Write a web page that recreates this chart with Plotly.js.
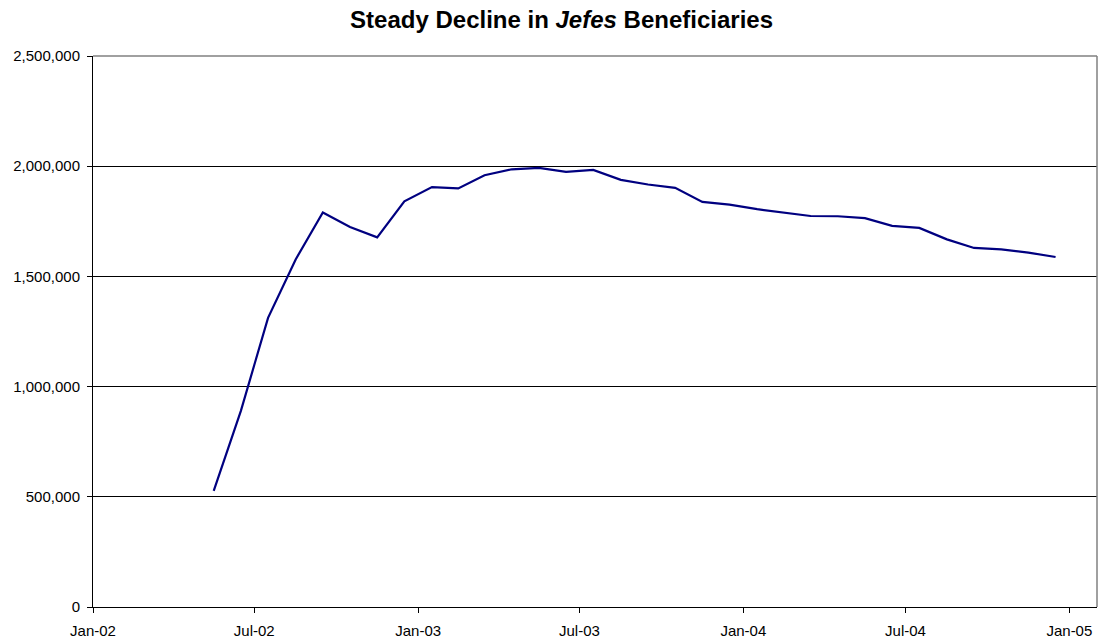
<!DOCTYPE html>
<html>
<head>
<meta charset="utf-8">
<script src="https://cdn.plot.ly/plotly-3.0.1.min.js"></script>
<style>
  html, body { margin: 0; padding: 0; background: #fff; }
  #chart { width: 1112px; height: 639px; }
</style>
</head>
<body>
<div id="chart"></div>
<script>
// Months (monthly data, plotted at mid-month as in the original date axis)
const months = [
  '2002-05','2002-06','2002-07','2002-08','2002-09','2002-10','2002-11','2002-12',
  '2003-01','2003-02','2003-03','2003-04','2003-05','2003-06','2003-07','2003-08',
  '2003-09','2003-10','2003-11','2003-12','2004-01','2004-02','2004-03','2004-04',
  '2004-05','2004-06','2004-07','2004-08','2004-09','2004-10','2004-11','2004-12'
];
// Jefes beneficiaries
const beneficiaries = [
  527000, 890000, 1312000, 1577000, 1790000, 1724000, 1677000, 1841000,
  1905000, 1899000, 1959000, 1986000, 1992000, 1974000, 1983000, 1938000,
  1917000, 1902000, 1838000, 1826000, 1805000, 1791000, 1774000, 1773000,
  1764000, 1729000, 1720000, 1668000, 1629000, 1623000, 1608000, 1588000
];
const yTicks = [0, 500000, 1000000, 1500000, 2000000, 2500000];
const titleText = '<b>Steady Decline in <i>Jefes</i> Beneficiaries</b>';

function midMonth(s) {
  const [y, m] = s.split('-').map(Number);
  const a = Date.UTC(y, m - 1, 1);
  const b = Date.UTC(y, m, 1);
  return new Date((a + b) / 2).toISOString().slice(0, 19).replace('T', ' ');
}
const xDates = months.map(midMonth);

const font = 'Arial, "Liberation Sans", sans-serif';

const trace = {
  x: xDates,
  y: beneficiaries,
  type: 'scatter',
  mode: 'lines',
  line: { color: '#000080', width: 2.2 },
  hoverinfo: 'x+y'
};

const layout = {
  width: 1112,
  height: 639,
  margin: { l: 93, r: 14.5, t: 56, b: 32 },
  paper_bgcolor: '#ffffff',
  plot_bgcolor: '#ffffff',
  showlegend: false,
  font: { family: font, color: '#000000', size: 15 },
  title: {
    text: titleText,
    font: { family: font, size: 24, color: '#000000' },
    x: 0.505, xref: 'container', xanchor: 'center',
    y: 1 - 19.5 / 639, yref: 'container', yanchor: 'middle'
  },
  xaxis: {
    type: 'date',
    range: ['2002-01-01', '2005-02-01'],
    tick0: '2002-01-01',
    dtick: 'M6',
    tickformat: '%b-%y',
    showgrid: false,
    zeroline: false,
    showline: true,
    linecolor: '#000000',
    linewidth: 1,
    ticks: 'outside',
    ticklen: 5,
    tickcolor: '#000000',
    ticklabelstandoff: 5,
    tickfont: { family: font, size: 15, color: '#000000' }
  },
  yaxis: {
    range: [0, 2500000],
    tickvals: yTicks,
    tickformat: ',d',
    showgrid: true,
    gridcolor: '#000000',
    gridwidth: 1,
    zeroline: false,
    showline: true,
    linecolor: '#000000',
    linewidth: 1,
    ticks: 'outside',
    ticklen: 5,
    tickcolor: '#000000',
    ticklabelstandoff: 4,
    tickfont: { family: font, size: 15, color: '#000000' }
  },
  shapes: [
    { type: 'line', xref: 'paper', yref: 'paper', x0: 0, x1: 1, y0: 1, y1: 1,
      line: { color: '#808080', width: 1.5 }, layer: 'above' },
    { type: 'line', xref: 'paper', yref: 'paper', x0: 1, x1: 1, y0: 0, y1: 1,
      line: { color: '#808080', width: 1.5 }, layer: 'above' }
  ]
};

Plotly.newPlot('chart', [trace], layout, { displayModeBar: false, staticPlot: true });
</script>
</body>
</html>
